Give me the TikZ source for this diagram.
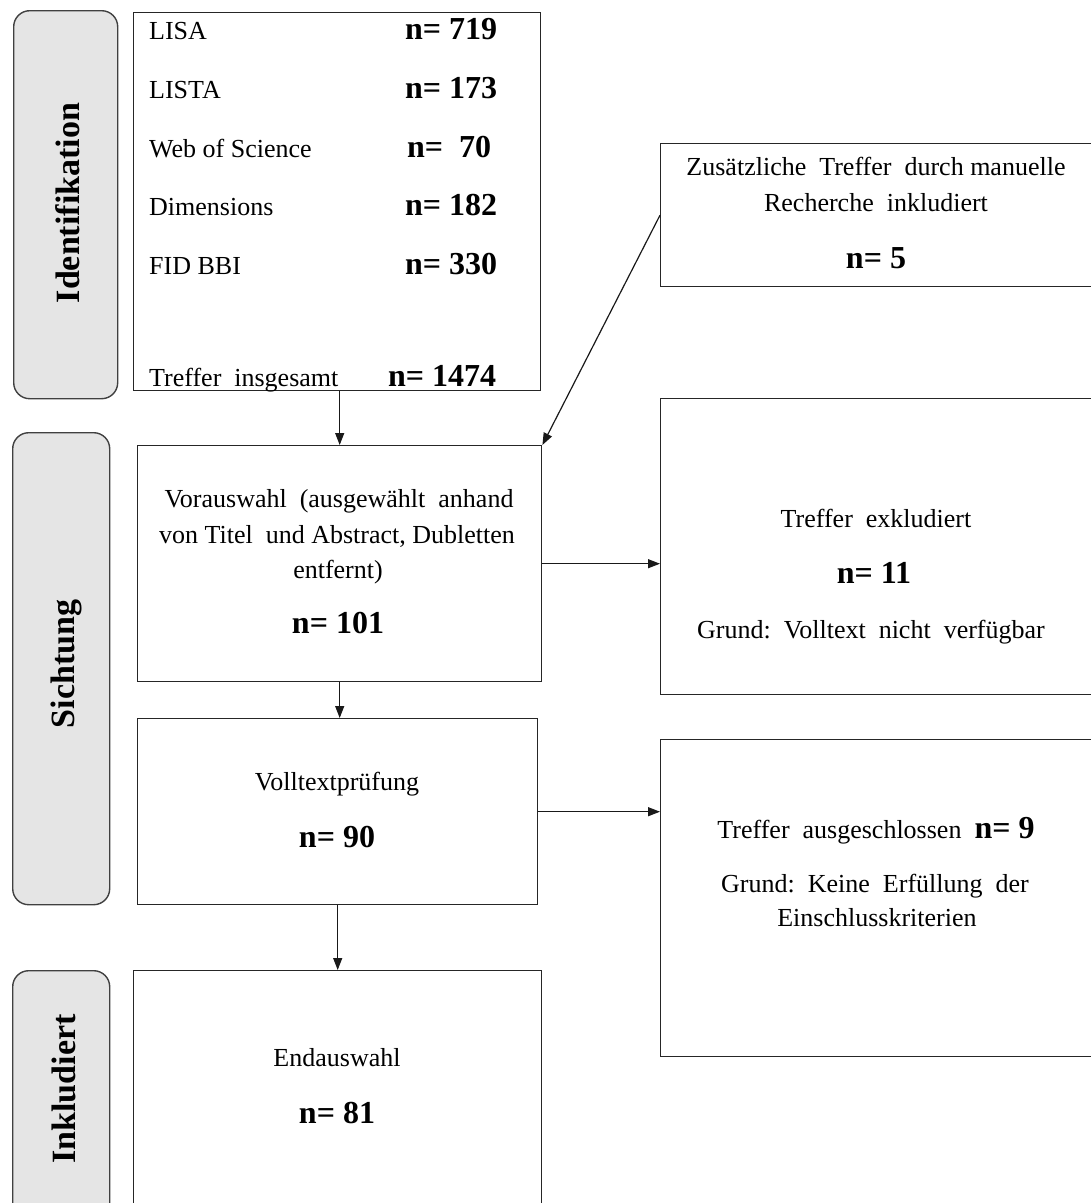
\documentclass[tikz,border=0pt]{standalone}
\usepackage{fontspec}
\setmainfont{Liberation Serif}
\usetikzlibrary{arrows.meta,calc}
\begin{document}
\begin{tikzpicture}[x=1pt,y=-1pt,
  box/.style={draw=black!85,line width=1.4pt,inner sep=0pt,anchor=north west},
  lab/.style={draw=black!75,fill=black!10,line width=1.4pt,rounded corners=16pt,inner sep=0pt,anchor=north west},
  labtxt/.style={rotate=90,font=\fontsize{34}{40}\selectfont\bfseries,inner sep=0pt},
  txt/.style={font=\fontsize{26}{32}\selectfont,inner sep=0pt,anchor=base},
  ltxt/.style={txt,anchor=base west},
  num/.style={font=\fontsize{32}{38}\selectfont\bfseries,inner sep=0pt,anchor=base},
  lnum/.style={num,anchor=base west},
  arr/.style={-{Triangle[length=12pt,width=9pt]},line width=1.2pt,draw=black!90}
]
\useasboundingbox (0,0) rectangle (1091,1203);
% phase labels
\node[lab,minimum width=104pt,minimum height=388pt] (labid) at (13,10) {};
\node[labtxt] (labidt) at (68,203) {Identifikation};
\node[lab,minimum width=97pt,minimum height=472pt] (labsi) at (12,432) {};
\node[labtxt] (labsit) at (66,664) {Sichtung};
\node[lab,minimum width=97pt,minimum height=260pt] (labin) at (12,970) {};
\node[labtxt] (labint) at (64,1089) {Inkludiert};
% boxes
\node[box,minimum width=407pt,minimum height=378pt] (src) at (133,12) {};
\node[box,minimum width=445pt,minimum height=143pt] (zus) at (660,143) {};
\node[box,minimum width=404pt,minimum height=236pt] (vor) at (137,445) {};
\node[box,minimum width=445pt,minimum height=296pt] (exk) at (660,398) {};
\node[box,minimum width=400pt,minimum height=186pt] (voll) at (137,718) {};
\node[box,minimum width=445pt,minimum height=317pt] (aus) at (660,739) {};
\node[box,minimum width=408pt,minimum height=260pt] (end) at (133,970) {};
% source list
\node[ltxt] (t1) at (149,39) {LISA};
\node[lnum] (n1) at (405,39) {n= 719};
\node[ltxt] (t2) at (149,98) {LISTA};
\node[lnum] (n2) at (405,98) {n= 173};
\node[ltxt] (t3) at (149,157) {Web of Science};
\node[lnum] (n3) at (407,157) {n=\ \ 70};
\node[ltxt] (t4) at (149,215) {Dimensions};
\node[lnum] (n4) at (405,215) {n= 182};
\node[ltxt] (t5) at (149,274) {FID BBI};
\node[lnum] (n5) at (405,274) {n= 330};
\node[ltxt] (t6) at (149,386) {Treffer\ \ insgesamt};
\node[lnum] (n6) at (388,386) {n= 1474};
% additional
\node[txt] (z1) at (876,175) {Zusätzliche\ \ Treffer\ \ durch manuelle};
\node[txt] (z2) at (876,211) {Recherche\ \ inkludiert};
\node[num] (z3) at (876,268) {n= 5};
% Vorauswahl
\node[txt] (v1) at (339,507) {Vorauswahl\ \ (ausgewählt\ \ anhand};
\node[txt] (v2) at (337,543) {von Titel\ \ und Abstract, Dubletten};
\node[txt] (v3) at (338,578) {entfernt)};
\node[num] (v4) at (338,633) {n= 101};
% excluded
\node[txt] (e1) at (876,527) {Treffer\ \ exkludiert};
\node[num] (e2) at (874,583) {n= 11};
\node[txt] (e3) at (871,638) {Grund:\ \ Volltext\ \ nicht\ \ verfügbar};
% Volltext
\node[txt] (f1) at (337,790) {Volltextprüfung};
\node[num] (f2) at (337,847) {n= 90};
% ausgeschlossen
\node[txt] (a1) at (876,838) {Treffer\ \ ausgeschlossen\ \ {\fontsize{32}{38}\selectfont\bfseries n= 9}};
\node[txt] (a2) at (875,892) {Grund:\ \ Keine\ \ Erfüllung\ \ der};
\node[txt] (a3) at (877,926) {Einschlusskriterien};
% Endauswahl
\node[txt] (d1) at (337,1066) {Endauswahl};
\node[num] (d2) at (337,1123) {n= 81};
% connectors
\draw[arr] (vor.north |- src.south) -- (vor.north);
\draw[arr] (zus.west) -- (vor.north east);
\draw[arr] (vor.south) -- (vor.south |- voll.north);
\draw[arr] (voll.south) -- (voll.south |- end.north);
\draw[arr] (vor.east) -- (vor.east -| exk.west);
\draw[arr] (voll.east) -- (voll.east -| aus.west);
\end{tikzpicture}
\end{document}
